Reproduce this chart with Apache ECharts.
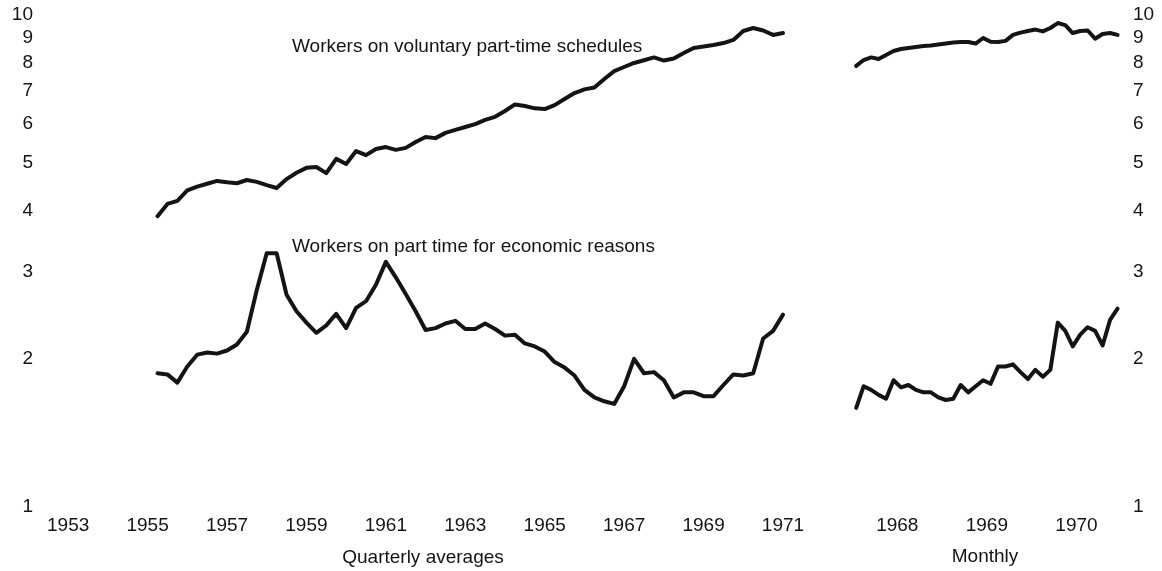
<!DOCTYPE html>
<html>
<head>
<meta charset="utf-8">
<title>Part-time workers</title>
<script src="https://cdn.jsdelivr.net/npm/echarts@6/dist/echarts.min.js"></script>
<style>
html, body { margin: 0; padding: 0; background: #fff; }
#chart { width: 1162px; height: 571px; }
</style>
</head>
<body>
<div id="chart"></div>
<script>
// workers in millions, ratio scale
// quarterly averages, first value is 1955 Q1
var qStartYear = 1955;
var qVoluntary = [3.90, 4.13, 4.19, 4.40, 4.48, 4.54, 4.60, 4.57, 4.55, 4.62,
                  4.58, 4.51, 4.45, 4.64, 4.78, 4.89, 4.91, 4.77, 5.10, 4.98,
                  5.29, 5.19, 5.34, 5.39, 5.32, 5.37, 5.52, 5.65, 5.62, 5.76,
                  5.84, 5.92, 6.00, 6.12, 6.21, 6.38, 6.58, 6.53, 6.46, 6.44,
                  6.56, 6.75, 6.94, 7.06, 7.12, 7.41, 7.69, 7.84, 7.99, 8.09,
                  8.20, 8.08, 8.16, 8.37, 8.57, 8.63, 8.69, 8.77, 8.90, 9.28,
                  9.41, 9.30, 9.11, 9.19];
var qEconomic = [1.87, 1.86, 1.79, 1.93, 2.04, 2.06, 2.05, 2.08, 2.14, 2.27,
                 2.76, 3.28, 3.28, 2.70, 2.50, 2.37, 2.26, 2.34, 2.47, 2.31,
                 2.54, 2.62, 2.83, 3.15, 2.93, 2.71, 2.50, 2.29, 2.31, 2.36,
                 2.39, 2.30, 2.30, 2.36, 2.30, 2.23, 2.24, 2.15, 2.12, 2.07,
                 1.97, 1.92, 1.85, 1.73, 1.67, 1.64, 1.62, 1.76, 2.00, 1.87,
                 1.88, 1.81, 1.67, 1.71, 1.71, 1.68, 1.68, 1.77, 1.86, 1.85,
                 1.87, 2.20, 2.28, 2.46];

// monthly, first value is January 1968
var mStartYear = 1968;
var mVoluntary = [7.88, 8.10, 8.20, 8.14, 8.29, 8.45, 8.53, 8.57, 8.61, 8.65,
                  8.67, 8.71, 8.75, 8.79, 8.81, 8.81, 8.75, 8.98, 8.82, 8.81,
                  8.86, 9.11, 9.21, 9.28, 9.34, 9.26, 9.41, 9.63, 9.54, 9.19,
                  9.28, 9.30, 8.95, 9.15, 9.19, 9.11];
var mEconomic = [1.59, 1.76, 1.73, 1.69, 1.66, 1.81, 1.75, 1.77, 1.73, 1.71,
                 1.71, 1.67, 1.65, 1.66, 1.77, 1.71, 1.76, 1.81, 1.78, 1.93,
                 1.93, 1.95, 1.88, 1.82, 1.90, 1.84, 1.90, 2.37, 2.28, 2.12,
                 2.24, 2.32, 2.28, 2.13, 2.40, 2.53];

var yTicks = [1, 2, 3, 4, 5, 6, 7, 8, 9, 10];
var qYearLabels = [1953, 1955, 1957, 1959, 1961, 1963, 1965, 1967, 1969, 1971];
var mYearLabels = [1968, 1969, 1970];

var txt = '#141414';
var font = 'Liberation Sans';

function quarterly(vals) {
    var out = [];
    for (var i = 0; i < vals.length; i++) {
        out.push([qStartYear + (i + 1) / 4, vals[i]]);
    }
    return out;
}
function monthly(vals) {
    var out = [];
    for (var i = 0; i < vals.length; i++) {
        out.push([i, vals[i]]);
    }
    return out;
}
// month index of the middle of each labelled year
var mLabelPos = mYearLabels.map(function (y) { return (y - mStartYear) * 12 + 5.5; });

var lineStyle = { color: txt, width: 4, join: 'round', cap: 'round' };

function yAxis(grid, pos, margin) {
    return {
        type: 'log', logBase: 10, gridIndex: grid, position: pos,
        min: 1, max: 10,
        axisLine: { show: false }, axisTick: { show: false }, splitLine: { show: false },
        axisLabel: {
            customValues: yTicks, margin: margin,
            color: txt, fontSize: 19, fontFamily: font
        }
    };
}

var myChart = echarts.init(document.getElementById('chart'));
var option = {
    animation: false,
    backgroundColor: '#fff',
    grid: [
        { left: 45, top: 15, width: 750, height: 492 },
        { left: 845, top: 15, width: 280, height: 492 }
    ],
    xAxis: [
        {
            type: 'value', gridIndex: 0, min: 1952.417, max: 1971.302,
            axisLine: { show: false }, axisTick: { show: false }, splitLine: { show: false },
            axisLabel: {
                customValues: qYearLabels, margin: 9,
                color: txt, fontSize: 19, fontFamily: font,
                formatter: function (v) { return String(Math.round(v)); }
            }
        },
        {
            type: 'value', gridIndex: 1, min: -1.5, max: 36,
            axisLine: { show: false }, axisTick: { show: false }, splitLine: { show: false },
            axisLabel: {
                customValues: mLabelPos, margin: 9,
                color: txt, fontSize: 19, fontFamily: font,
                formatter: function (v) { return String(mStartYear + Math.floor(v / 12)); }
            }
        }
    ],
    yAxis: [yAxis(0, 'left', 12), yAxis(1, 'right', 8)],
    series: [
        { name: 'Voluntary (quarterly)', type: 'line', xAxisIndex: 0, yAxisIndex: 0,
          data: quarterly(qVoluntary), showSymbol: false, lineStyle: lineStyle },
        { name: 'Economic (quarterly)', type: 'line', xAxisIndex: 0, yAxisIndex: 0,
          data: quarterly(qEconomic), showSymbol: false, lineStyle: lineStyle },
        { name: 'Voluntary (monthly)', type: 'line', xAxisIndex: 1, yAxisIndex: 1,
          data: monthly(mVoluntary), showSymbol: false, lineStyle: lineStyle },
        { name: 'Economic (monthly)', type: 'line', xAxisIndex: 1, yAxisIndex: 1,
          data: monthly(mEconomic), showSymbol: false, lineStyle: lineStyle }
    ],
    graphic: [
        { type: 'text', x: 292, y: 47, style: { text: 'Workers on voluntary part-time schedules',
          fill: txt, font: '19px ' + font, verticalAlign: 'middle' } },
        { type: 'text', x: 292, y: 247, style: { text: 'Workers on part time for economic reasons',
          fill: txt, font: '19px ' + font, verticalAlign: 'middle' } },
        { type: 'text', x: 423, y: 558, style: { text: 'Quarterly averages',
          fill: txt, font: '19px ' + font, align: 'center', verticalAlign: 'middle' } },
        { type: 'text', x: 985, y: 557, style: { text: 'Monthly',
          fill: txt, font: '19px ' + font, align: 'center', verticalAlign: 'middle' } }
    ]
};
myChart.setOption(option);
</script>
</body>
</html>
